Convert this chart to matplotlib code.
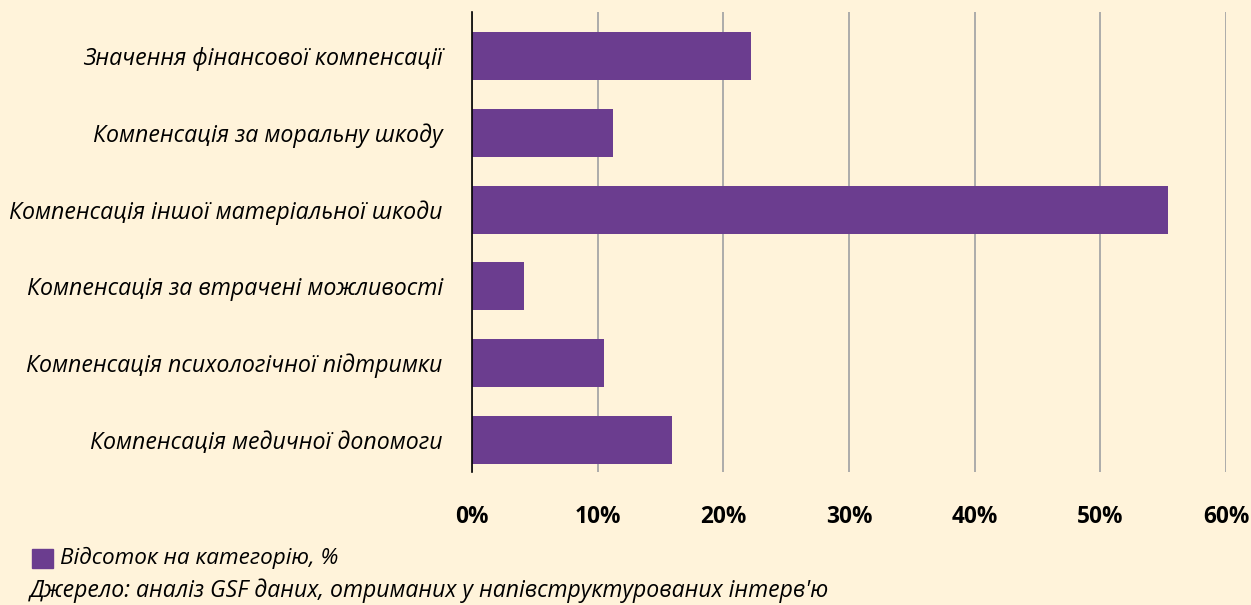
import matplotlib
matplotlib.use("Agg")
import matplotlib.pyplot as plt
from matplotlib.ticker import FuncFormatter

categories = [
    "Значення фінансової компенсації",
    "Компенсація за моральну шкоду",
    "Компенсація іншої матеріальної шкоди",
    "Компенсація за втрачені можливості",
    "Компенсація психологічної підтримки",
    "Компенсація медичної допомоги",
]
values = [22.2, 11.2, 55.4, 4.1, 10.5, 15.9]
xticks = [0, 10, 20, 30, 40, 50, 60]
legend_label = "Відсоток на категорію, %"
source_text = "Джерело: аналіз GSF даних, отриманих у напівструктурованих інтерв'ю"

bg = "#FFF3DA"
bar_color = "#6B3D8F"
W, H = 1251, 605
fig = plt.figure(figsize=(W / 100, H / 100), dpi=100, facecolor=bg)
ax = fig.add_axes([472 / W, 1 - 472 / H, (1226 - 472) / W, (472 - 12) / H])
ax.set_facecolor(bg)

ypos = list(range(len(categories)))
ax.barh(ypos, values, height=0.625, color=bar_color, zorder=3)
ax.set_ylim(5.417, -0.573)
ax.set_xlim(0, 60)
ax.set_xticks(xticks)
ax.xaxis.set_major_formatter(FuncFormatter(lambda v, p: f"{int(v)}%"))
ax.grid(axis="x", color="#A6A6A6", linewidth=1.3, zorder=0)
for s in ["top", "right", "bottom"]:
    ax.spines[s].set_visible(False)
ax.spines["left"].set_color("black")
ax.spines["left"].set_linewidth(1.2)
ax.spines["left"].set_zorder(4)
ax.set_yticks(ypos)
ax.set_yticklabels(categories, fontsize=16.7, style="italic", family="Open Sans")
ax.tick_params(axis="y", length=0, pad=21)
ax.tick_params(axis="x", length=0, pad=24)
for t in ax.get_xticklabels():
    t.set_fontweight("bold")
    t.set_fontsize(16.3)
    t.set_family("Open Sans")
for t in ax.get_yticklabels():
    t.set_y(t.get_position()[1])

fig.patches.append(plt.Rectangle((32 / W, 1 - 568 / H), 21 / W, 19 / H,
                                 transform=fig.transFigure, color=bar_color))
fig.text(60 / W, 1 - 558 / H, legend_label, fontsize=16.2, style="italic",
         family="Open Sans", va="center")
fig.text(30 / W, 1 - 591 / H, source_text, fontsize=16.6, style="italic",
         family="Open Sans", va="center")

fig.savefig("out.png", dpi=100, facecolor=bg)
